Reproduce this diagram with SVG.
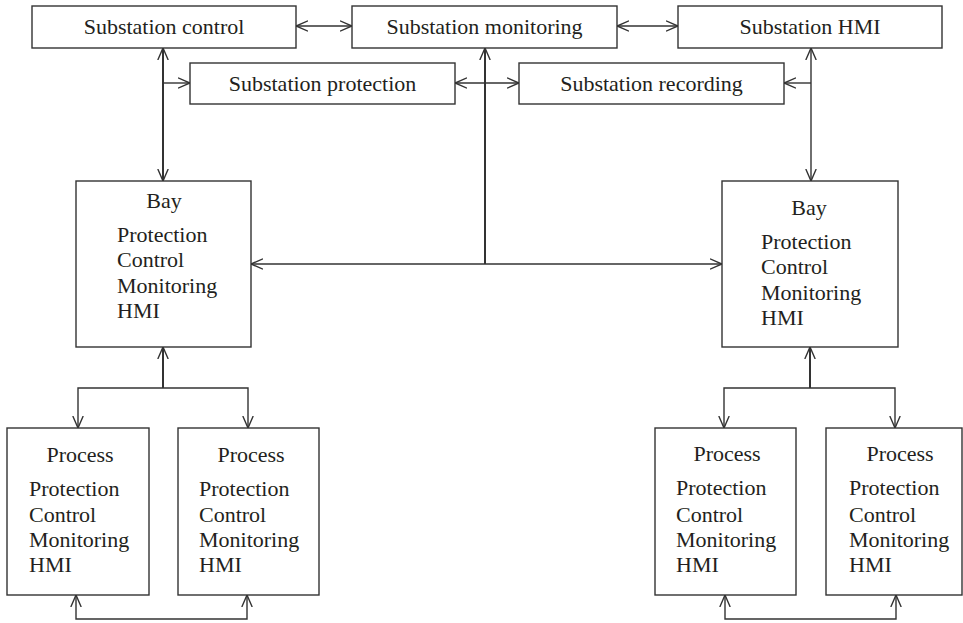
<svg xmlns="http://www.w3.org/2000/svg" width="963" height="623" viewBox="0 0 963 623">
<style>
.box{fill:#fff;stroke:#333;stroke-width:1.4}
.t{font-family:"Liberation Serif","Times New Roman",serif;font-size:22px;fill:#231f20}
.c{text-anchor:middle}
.ln{fill:none;stroke:#333;stroke-width:1.4}
.bold{stroke-width:2}
</style>
<defs>
<marker id="ah" viewBox="0 0 12 12" refX="12" refY="6" markerWidth="12" markerHeight="12" markerUnits="userSpaceOnUse" orient="auto-start-reverse">
<path d="M0,0.8 L12,6 L0,11.2" fill="none" stroke="#333" stroke-width="1.4"/>
</marker>
</defs>
<rect width="963" height="623" fill="#fff"/>
<g id="connectors">
<line class="ln" x1="296" y1="26" x2="352" y2="26" marker-start="url(#ah)" marker-end="url(#ah)"/>
<line class="ln" x1="617" y1="26" x2="678" y2="26" marker-start="url(#ah)" marker-end="url(#ah)"/>
<line class="ln bold" x1="163" y1="48" x2="163" y2="181" marker-start="url(#ah)" marker-end="url(#ah)"/>
<line class="ln" x1="163" y1="83" x2="190" y2="83" marker-end="url(#ah)"/>
<line class="ln" x1="811" y1="48" x2="811" y2="181" marker-start="url(#ah)" marker-end="url(#ah)"/>
<line class="ln" x1="811" y1="83" x2="784" y2="83" marker-end="url(#ah)"/>
<line class="ln bold" x1="485" y1="48" x2="485" y2="264" marker-start="url(#ah)"/>
<line class="ln" x1="455" y1="83" x2="519" y2="83" marker-start="url(#ah)" marker-end="url(#ah)"/>
<line class="ln" x1="251" y1="264" x2="722" y2="264" marker-start="url(#ah)" marker-end="url(#ah)"/>
<line class="ln bold" x1="163" y1="388" x2="163" y2="347" marker-end="url(#ah)"/>
<path class="ln" d="M78,428 V388 H248 V428" marker-start="url(#ah)" marker-end="url(#ah)"/>
<path class="ln" d="M76,595 V619 H247 V595" marker-start="url(#ah)" marker-end="url(#ah)"/>
<line class="ln bold" x1="810" y1="388" x2="810" y2="347" marker-end="url(#ah)"/>
<path class="ln" d="M724,428 V388 H895 V428" marker-start="url(#ah)" marker-end="url(#ah)"/>
<path class="ln" d="M725,595 V619 H896 V595" marker-start="url(#ah)" marker-end="url(#ah)"/>
</g>
<g id="sub-control"><rect class="box" x="32" y="6" width="264" height="42"/><text class="t c" x="164" y="34">Substation control</text></g>
<g id="sub-monitoring"><rect class="box" x="352" y="6" width="265" height="42"/><text class="t c" x="484.5" y="34">Substation monitoring</text></g>
<g id="sub-hmi"><rect class="box" x="678" y="6" width="264" height="42"/><text class="t c" x="810" y="34">Substation HMI</text></g>
<g id="sub-protection"><rect class="box" x="190" y="63" width="265" height="41"/><text class="t c" x="322.5" y="91">Substation protection</text></g>
<g id="sub-recording"><rect class="box" x="519" y="63" width="265" height="41"/><text class="t c" x="651.5" y="91">Substation recording</text></g>
<g id="bay-left"><rect class="box" x="76" y="181" width="175" height="166"/>
<text class="t c" x="164" y="208">Bay</text>
<text class="t" x="117" y="242">Protection</text><text class="t" x="117" y="267">Control</text><text class="t" x="117" y="293">Monitoring</text><text class="t" x="117" y="318">HMI</text></g>
<g id="bay-right"><rect class="box" x="722" y="181" width="176" height="166"/>
<text class="t c" x="809" y="215">Bay</text>
<text class="t" x="761" y="249">Protection</text><text class="t" x="761" y="274">Control</text><text class="t" x="761" y="300">Monitoring</text><text class="t" x="761" y="325">HMI</text></g>
<g id="process-1"><rect class="box" x="7" y="428" width="142" height="167"/>
<text class="t c" x="80" y="462">Process</text>
<text class="t" x="29" y="496">Protection</text><text class="t" x="29" y="522">Control</text><text class="t" x="29" y="547">Monitoring</text><text class="t" x="29" y="572">HMI</text></g>
<g id="process-2"><rect class="box" x="178" y="428" width="141" height="167"/>
<text class="t c" x="251" y="462">Process</text>
<text class="t" x="199" y="496">Protection</text><text class="t" x="199" y="522">Control</text><text class="t" x="199" y="547">Monitoring</text><text class="t" x="199" y="572">HMI</text></g>
<g id="process-3"><rect class="box" x="655" y="428" width="141" height="167"/>
<text class="t c" x="727" y="461">Process</text>
<text class="t" x="676" y="495">Protection</text><text class="t" x="676" y="522">Control</text><text class="t" x="676" y="547">Monitoring</text><text class="t" x="676" y="572">HMI</text></g>
<g id="process-4"><rect class="box" x="826" y="428" width="136" height="167"/>
<text class="t c" x="900" y="461">Process</text>
<text class="t" x="849" y="495">Protection</text><text class="t" x="849" y="522">Control</text><text class="t" x="849" y="547">Monitoring</text><text class="t" x="849" y="572">HMI</text></g>
</svg>
